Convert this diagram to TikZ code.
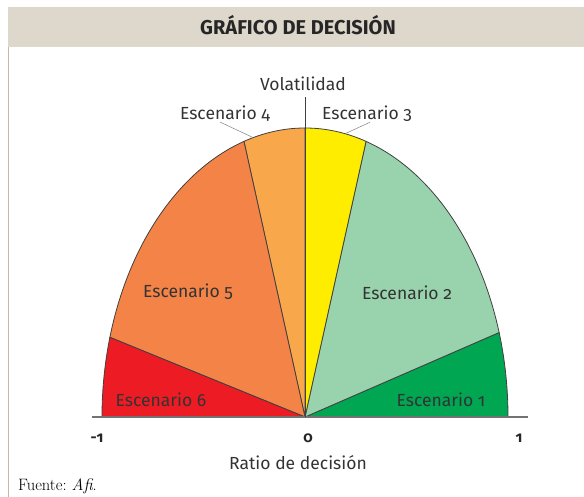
\documentclass[tikz,border=0pt]{standalone}
\usepackage{fontspec}
\newfontfamily\chartfont[Numbers=OldStyle]{Fira Sans}
\usetikzlibrary{calc}
\definecolor{headBeige}{RGB}{221,216,203}
\definecolor{frameBeige}{RGB}{196,186,164}
\definecolor{escA}{RGB}{0,166,81}
\definecolor{escB}{RGB}{153,211,173}
\definecolor{escC}{RGB}{255,237,0}
\definecolor{escD}{RGB}{248,168,74}
\definecolor{escE}{RGB}{244,131,71}
\definecolor{escF}{RGB}{237,28,36}
\colorlet{edgeGray}{black!75}

\begin{document}
\begin{tikzpicture}[
    x=1pt, y=1pt,
    lbl/.style={font=\chartfont\fontsize{17.5}{20}\selectfont, text=black!80, inner sep=0, anchor=base},
    tick/.style={font=\chartfont\bfseries\fontsize{15}{17}\selectfont, text=black!85, inner sep=0, anchor=base},
    sector/.style={draw=edgeGray, line width=0.8pt, line join=round},
    lead/.style={draw=black!50, line width=0.5pt},
    axis/.style={draw=black!55, line width=1.4pt},
  ]
  \useasboundingbox (0,0) rectangle (584,497);
  % header band and frame
  \fill[headBeige] (8,450) rectangle (584,490);
  \draw[frameBeige, line width=1.2pt] (8.6,0) -- (8.6,450);
  \node[font=\chartfont\bfseries\fontsize{20}{22}\selectfont, text=black!85, anchor=base] (title) at (298,462) {GRÁFICO DE DECISIÓN};

  \coordinate (O) at (305,80);
  % sectors
  \foreach \a/\b/\c in {0/17/escA, 17/72.5/escB, 72.5/90/escC, 90/107.5/escD, 107.5/164/escE, 164/180/escF}
    \filldraw[sector, fill=\c] (O) -- ($(O)+(\a:203 and 289)$)
      arc[start angle=\a, end angle=\b, x radius=203, y radius=289] -- cycle;

  % axes
  \coordinate (xl) at (92,80);
  \coordinate (xr) at (528,80);
  \coordinate (vtop) at (305,400);
  \draw[axis] (xl) -- (xr);
  \draw[edgeGray, line width=1pt] (O) -- (vtop);

  \node[lbl] (vol) at (303,406) {Volatilidad};
  \node[lbl] (s4) at (225,377) {Escenario 4};
  \node[lbl] (s3) at (367,377) {Escenario 3};
  \node[lbl] (s5) at (188,199) {Escenario 5};
  \node[lbl] (s2) at (407,197) {Escenario 2};
  \node[lbl] (s6) at (161,90) {Escenario 6};
  \node[lbl] (s1) at (441,90) {Escenario 1};

  \draw[lead] ($(s4.south)+(-5,0)$) -- ($(O)+(104.8:203 and 289)$);
  \draw[lead] ($(s3.south)+(3,0)$) -- ($(O)+(78.6:203 and 289)$);

  \node[tick] (m1) at (97,54) {-1};
  \node[tick] (z0) at (308,54) {0};
  \node[tick] (p1) at (519,54) {1};
  \node[lbl] (ratio) at (298,27) {Ratio de decisión};

  \node[font=\fontsize{16.5}{18}\selectfont, inner sep=0, anchor=base west] (src) at (18,6) {Fuente:\ \textit{Afi}.};
\end{tikzpicture}
\end{document}
